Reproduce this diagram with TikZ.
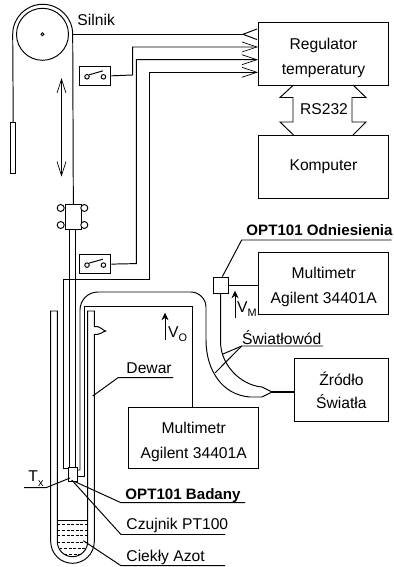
\documentclass[tikz,border=0pt]{standalone}
\usepackage{fontspec}
\setmainfont{Liberation Sans}
\usetikzlibrary{arrows.meta, positioning, calc}
\newcommand{\lowsub}[2]{#1\raisebox{-2.5pt}{\fontsize{6.2pt}{7pt}\selectfont #2}}
\newcommand{\lift}{\rule{0pt}{10.8pt}}
\tikzset{
  every picture/.style={line width=0.55pt, font=\fontsize{8.9pt}{10.7pt}\selectfont},
  box/.style={draw, align=center, inner sep=0pt, anchor=north west},
  label/.style={inner sep=0pt, anchor=base west},
  boldlabel/.style={label, font=\fontsize{8.6pt}{10.3pt}\selectfont\bfseries},
  openarrow/.style={-{Straight Barb[length=3mm, width=2mm, line width=0.4pt]}},
  liquid/.style={dash pattern=on 1.7pt off 0.9pt, line width=0.4pt},
  hub/.style={circle, draw, inner sep=0pt},
}
\begin{document}
\begin{tikzpicture}[x=0.02cm, y=-0.02cm]
  \useasboundingbox (0,0) rectangle (393,567);
  % pulley and weight
  \node[hub, minimum size=1.04cm] (pulley) at (42.5,34.3) {};
  \node[hub, minimum size=0.06cm] (axle) at (42.5,34.3) {};
  \node[box, minimum width=0.11cm, minimum height=1.01cm] (weight) at (10,122.3) {};
  \node[box, minimum width=0.314cm, minimum height=0.5cm] (cart) at (65,204) {};
  \draw (weight.north) -- (12.7,34.3) .. controls (12.7,17.7) and (26.1,4.3) .. (42.7,4.3) .. controls (59.3,4.3) and (72.7,17.7) .. (72.7,34.3) -- (cart.north);
  \node[label] (silnik) at (77,26) {Silnik};
  \coordinate (top) at (61.5,78);
  \coordinate (bottom) at (61.5,176.7);
  \draw[{Straight Barb[length=2.8mm, width=1.8mm, line width=0.4pt]}-{Straight Barb[length=2.8mm, width=1.8mm, line width=0.4pt]}, line width=0.4pt] (top) -- (bottom);
  % boxes
  \node[box, minimum width=2.6cm, minimum height=1.26cm] (reg) at (258,22) {\lift Regulator\\[3.9pt]temperatury};
  \node[box, minimum width=2.6cm, minimum height=1.27cm] (komp) at (258,135) {Komputer};
  \node[inner sep=0pt] (rs) at (324,109) {RS232};
  \draw (293.5,85) -- (280,97.5) -- (293,97.5) -- (293,122) -- (280,122) -- (293.5,135);
  \draw (353,85) -- (366,97.5) -- (352,97.5) -- (352,122) -- (366,122) -- (353,135);
  % switches
  \foreach \n/\y in {a/65.7, b/254} {
    \node[box, minimum width=0.63cm, minimum height=0.385cm] (sw\n) at (79,\y) {};
    \node[hub, minimum size=0.09cm] (sw\n l) at ($(sw\n.west)+(8,1)$) {};
    \node[hub, minimum size=0.09cm] (sw\n r) at ($(sw\n.east)+(-8,1)$) {};
    \draw (sw\n l.north east) -- ++(14,-4);
  }
  % wires to regulator
  \draw (72.7,34.3) -- (243,34.3);
  \draw (257,29) -- (243,34.3) -- (257,39.6);
  \draw[openarrow] (swa.east) -- (132.7,75) -- (132.7,47) -- (258,47);
  \draw[openarrow] (swb.east) -- (136.3,263.6) -- (136.3,59.7) -- (258,59.7);
  % probe
  \node[box, minimum width=0.18cm, minimum height=0.28cm] (probe) at (67.7,466.7) {};
  \draw[openarrow] (probe.west |- 0,468.5) -- (63.3,468.5) -- (63.3,279) -- (149,279) -- (149,72.3) -- (258,72.3);
  % carriage
  \foreach \n/\x/\y in {1/60.7/208, 2/84.3/208, 3/60.7/225, 4/84.3/225}
    \node[hub, fill=white, minimum size=0.14cm] (wheel\n) at (\x,\y) {};
  \draw (69.3,229) -- (69.3,466.7);
  \draw (75,229) -- (75,466.7);
  % dewar
  \draw (57.3,311) -- (50.7,311) -- (50.7,541.5) .. controls (50.7,553.5) and (60.5,563.3) .. (72.5,563.3) .. controls (84.5,563.3) and (94.3,553.5) .. (94.3,541.5) -- (94.3,334.3) -- (98,334.3) .. controls (101,334) and (102,332) .. (105.7,331) .. controls (102,330) and (101,327) .. (98,326.7) -- (94.3,326.7) -- (94.3,311) -- (87.7,311) -- (87.7,541.5) .. controls (87.7,549.9) and (80.9,556.7) .. (72.5,556.7) .. controls (64.1,556.7) and (57.3,549.9) .. (57.3,541.5) -- cycle;
  \draw (57.3,520.7) -- (87.7,520.7);
  \foreach \y/\w in {524/15, 530/15, 535.7/15, 542.3/15, 548.3/13, 554.3/8}
    \draw[liquid] (72.5-\w,\y) -- (72.5+\w,\y);
  % multimeters
  \node[box, minimum width=2.6cm, minimum height=1.24cm] (mm1) at (128.3,406.5) {\lift Multimetr\\[3.5pt]Agilent 34401A};
  \node[box, minimum width=2.6cm, minimum height=1.25cm] (mm2) at (258.3,251.7) {\lift Multimetr\\[3.5pt]Agilent 34401A};
  \node[box, minimum width=0.31cm, minimum height=0.33cm] (ref) at (212.7,276.7) {};
  \draw (ref.east) -- (ref.east -| mm2.west);
  \node[box, minimum width=1.89cm, minimum height=1.26cm] (src) at (293.7,358.3) {Źródło\\[2.2pt]Światła};
  % fibre and leads
  \coordinate (join) at (272,392);
  \draw (probe.east |- 0,470) -- (80,470) -- (80,310) .. controls (80,300) and (88,292) .. (98,292) -- (191,292) .. controls (199,292) and (206,299) .. (206,307) -- (206,340) .. controls (206,370) and (222,395) .. (250,397) -- (262,397) -- (join);
  \draw (probe.east |- 0,476.7) -- (84.3,476.7) -- (84.3,306) -- (192.7,306) -- (192.7,406.5);
  \draw (ref.south -| 220.7,0) -- (220.7,345) .. controls (222,365) and (240,385) .. (262,387) -- (join);
  \draw[line width=1pt] (join) -- (join -| src.west);
  % meter arrows
  \draw[-{Stealth[length=1.5mm, width=1.4mm]}, line width=0.4pt] (165,340) -- (165,312.7);
  \node[label] (vo) at (167.7,337) {\lowsub{V}{O}};
  \draw[-{Stealth[length=1.5mm, width=1.4mm]}, line width=0.4pt] (235,318) -- (235,290.7);
  \node[label] (vm) at (236.7,312) {\lowsub{V}{M}};
  % labels with leaders
  \node[boldlabel] (odn) at (246,235.5) {OPT101 Odniesienia};
  \draw (222.3,276.7) -- (241.7,240) -- (391.7,240);
  \node[label] (swl) at (241.7,344) {Światłowód};
  \draw (323,346) -- (241.7,346) -- (223,354);
  \draw (241.7,346) -- (215,373);
  \node[label] (dewar) at (126,373.3) {Dewar};
  \draw (173,377.7) -- (118,377.7) -- (92.7,396);
  \node[label] (tx) at (28,481.7) {\lowsub{T}{x}};
  \draw (24,487.7) -- (46,487.7) -- (70,478);
  \node[boldlabel] (bad) at (125,499.3) {OPT101 Badany};
  \draw (245,502.7) -- (121,502.7) -- (75,481.7);
  \node[label] (czuj) at (126,529) {Czujnik PT100};
  \draw (225,534.5) -- (121,534.5) -- (71.7,480);
  \node[label] (azot) at (126,561) {Ciekły Azot};
  \draw (225,565.7) -- (121,565.7) -- (83.3,540.7);
\end{tikzpicture}
\end{document}
